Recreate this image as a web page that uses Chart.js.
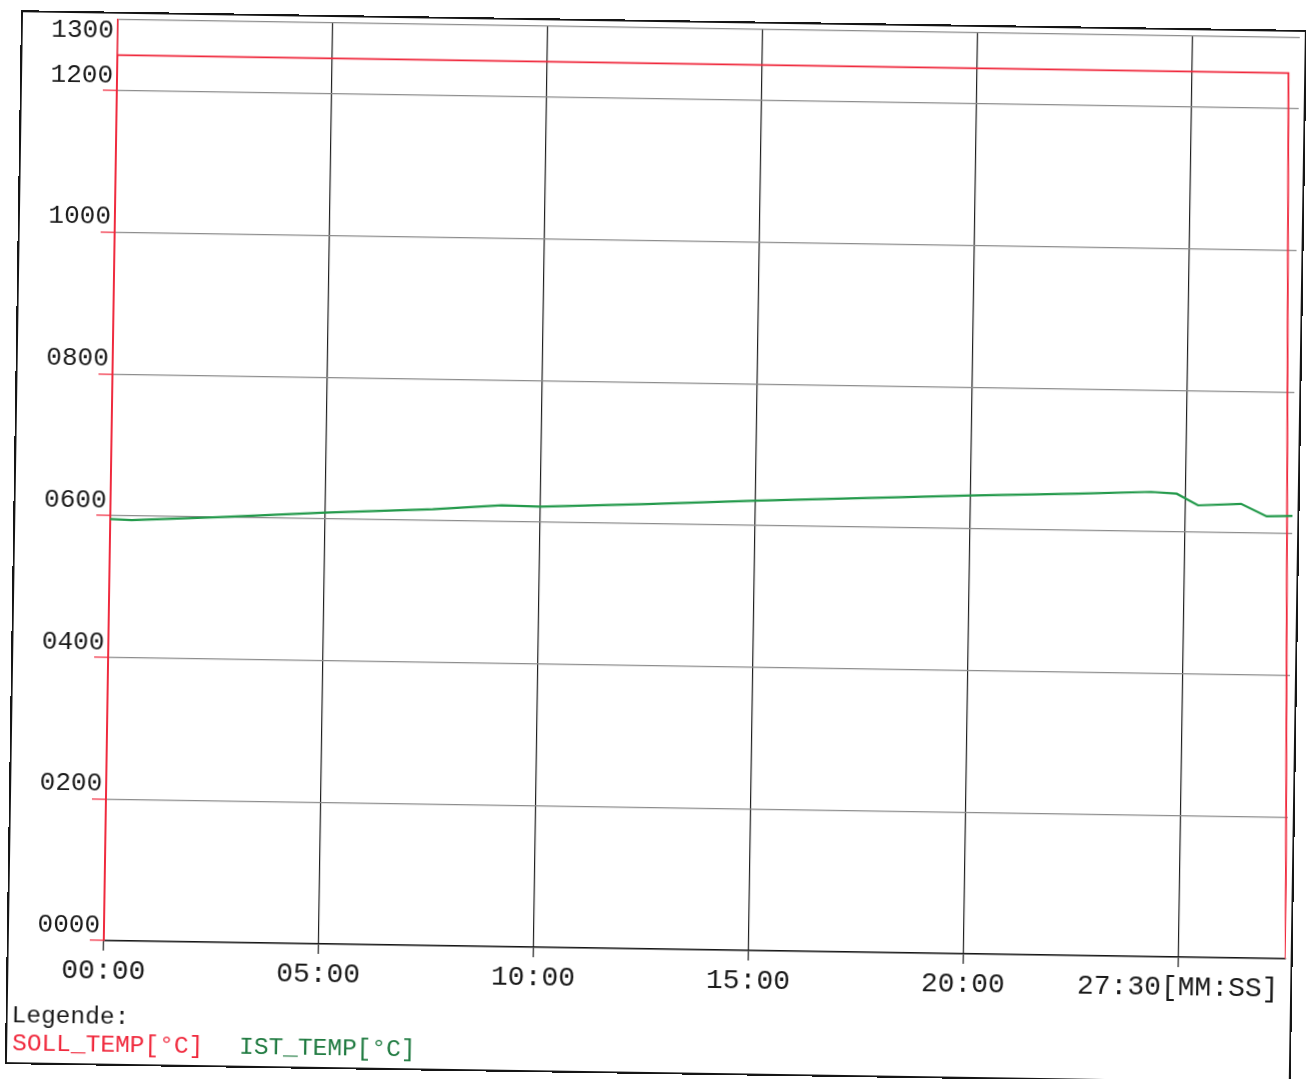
<!DOCTYPE html>
<html lang="de">
  <head>
    <meta charset="UTF-8" />
    <title>SOLL_TEMP / IST_TEMP</title>
    <script src="https://cdn.jsdelivr.net/npm/chart.js"></script>
    <style>
      html, body { margin: 0; padding: 0; background: #fff; overflow: hidden; }
      #sheet {
        position: absolute; left: 0; top: 0; width: 1306px; height: 1079px;
        transform: rotate(0.88deg); transform-origin: 653px 540px;
      }
      #sheet canvas { position: absolute; left: 0; top: 0; }
      .frame {
        position: absolute; left: 13px; top: 20px; width: 1282px; height: 1050px;
        border: 2px solid #151515;
      }
      .txt {
        position: absolute; font-family: "Liberation Mono", monospace;
        font-size: 24.5px; line-height: 24px; white-space: pre;
      }
    </style>
  </head>
  <body>
    <div id="sheet">
      <canvas id="tempChart" width="1306" height="1079"></canvas>
      <div class="frame"></div>
      <div class="txt" style="left:19px; top:1014px; color:#1a1a1a">Legende:</div>
      <div class="txt" style="left:20px; top:1042px; color:#f0283c">SOLL_TEMP[°C]</div>
      <div class="txt" style="left:247px; top:1042px; color:#1f7a40">IST_TEMP[°C]</div>
    </div>

    <script>
      // Zeit in Minuten
      const sollTime = [0, 0, 27.25, 27.5];
      const sollTemp = [0, 1250, 1250, 0];

      const istTime = [0, 0.5, 2.5, 5, 7.5, 9.1, 10, 12.5, 15, 17.5, 18.4, 20, 22.5, 24.2, 24.8, 25.3, 26.3, 26.9, 27.5];
      const istTemp = [595, 594, 600, 609, 616, 623, 622, 628, 635, 641, 643, 647, 652, 656, 654, 638, 641, 624, 625];

      const xTickValues = [0, 5, 10, 15, 20, 25];
      const xTickLabels = ["00:00", "05:00", "10:00", "15:00", "20:00", "27:30[MM:SS]"];
      const yTickValues = [0, 200, 400, 600, 800, 1000, 1200, 1300];
      const yTickLabels = ["0000", "0200", "0400", "0600", "0800", "1000", "1200", "1300"];

      const RED = "#f0283c";
      const GREEN = "#22994a";

      // y labels sit above their grid line (the top one below it)
      const yLabelPlugin = {
        id: "yLabels",
        afterDraw(chart) {
          const ctx = chart.ctx;
          const y = chart.scales.y;
          ctx.save();
          ctx.font = '26px "Liberation Mono", monospace';
          ctx.fillStyle = "#1a1a1a";
          ctx.textAlign = "right";
          ctx.textBaseline = "middle";
          yTickValues.forEach((v, i) => {
            const py = y.getPixelForValue(v);
            const off = v === 1300 ? 11 : -15;
            ctx.fillText(yTickLabels[i], y.right - 4, py + off);
          });
          ctx.restore();
        },
      };

      new Chart(document.getElementById("tempChart"), {
        type: "line",
        data: {
          datasets: [
            {
              label: "IST_TEMP[°C]",
              data: istTime.map((t, i) => ({ x: t, y: istTemp[i] })),
              borderColor: GREEN,
              borderWidth: 2.2,
              pointRadius: 0,
              tension: 0,
            },
            {
              label: "SOLL_TEMP[°C]",
              data: sollTime.map((t, i) => ({ x: t, y: sollTemp[i] })),
              borderColor: RED,
              borderWidth: 1.8,
              pointRadius: 0,
              tension: 0,
            },
          ],
        },
        options: {
          responsive: false,
          animation: false,
          layout: { padding: { top: 28, right: 14, left: 0, bottom: 0 } },
          plugins: { legend: { display: false }, tooltip: { enabled: false } },
          scales: {
            x: {
              type: "linear",
              min: 0,
              max: 27.5,
              afterBuildTicks: (axis) => {
                axis.ticks = xTickValues.map((v) => ({ value: v }));
              },
              afterFit: (axis) => {
                axis.height = 130;
              },
              ticks: {
                callback: (v, i) => xTickLabels[i],
                maxRotation: 0,
                autoSkip: false,
                padding: 4,
                color: "#1a1a1a",
                font: { family: "Liberation Mono", size: 28 },
              },
              grid: { color: "#1e1e1e", lineWidth: 1.2, tickLength: 10, tickColor: "#1e1e1e" },
              border: { color: "#151515", width: 1.6 },
            },
            y: {
              min: 0,
              max: 1300,
              afterBuildTicks: (axis) => {
                axis.ticks = yTickValues.map((v) => ({ value: v }));
              },
              afterFit: (axis) => {
                axis.width = 110;
              },
              ticks: { display: false },
              grid: {
                color: "#8c8c8c",
                lineWidth: 1.2,
                tickLength: 14,
                tickColor: (c) => (c.tick && c.tick.value === 1300 ? "rgba(0,0,0,0)" : RED),
              },
              border: { color: RED, width: 1.6 },
            },
          },
        },
        plugins: [yLabelPlugin],
      });
    </script>
  </body>
</html>
